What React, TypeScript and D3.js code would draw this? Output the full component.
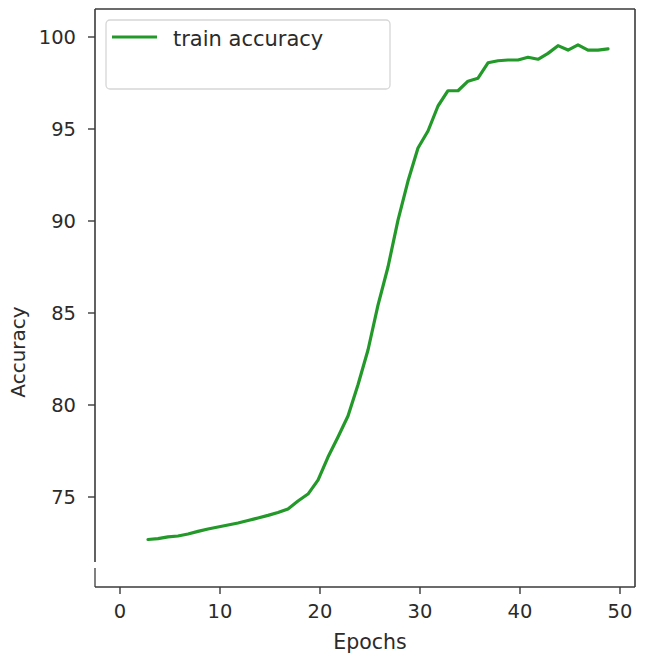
import React from 'react';
import * as d3 from 'd3';

const epochs = [3, 4, 5, 6, 7, 8, 9, 10, 11, 12, 13, 14, 15, 16, 17, 18, 19, 20, 21, 22, 23, 24, 25, 26,
  27, 28, 29, 30, 31, 32, 33, 34, 35, 36, 37, 38, 39, 40, 41, 42, 43, 44, 45, 46, 47, 48, 49];
const trainAccuracy = [72.69, 72.74, 72.83, 72.88, 72.99, 73.13, 73.26, 73.37, 73.48, 73.59, 73.72, 73.86,
  74.0, 74.16, 74.35, 74.78, 75.16, 75.92, 77.17, 78.26, 79.4, 81.1, 82.99, 85.43, 87.5, 90.05, 92.17,
  93.97, 94.89, 96.25, 97.08, 97.08, 97.6, 97.76, 98.6, 98.71, 98.75, 98.75, 98.9, 98.79, 99.11, 99.53,
  99.29, 99.57, 99.29, 99.29, 99.35];
const xTicks = [0, 10, 20, 30, 40, 50];
const yTicks = [75, 80, 85, 90, 95, 100];
const seriesName = 'train accuracy';
const xLabel = 'Epochs';
const yLabel = 'Accuracy';

const W = 646;
const H = 661;
const L = 95, R = 635, T = 9, B = 587;
const FONT = '"DejaVu Sans", sans-serif';
const LINE = '#23992a';
const AX = '#3a3a3a';
const TXT = '#2b2b2b';

export default function App() {
  const x = d3.scaleLinear().domain([0, 50]).range([120, 620]);
  const y = d3.scaleLinear().domain([75, 100]).range([497, 37]);
  const pts = epochs.map((e, i) => [e, trainAccuracy[i]] as [number, number]);
  const path = d3.line<[number, number]>().x(d => x(d[0]) - 2).y(d => y(d[1]))(pts) || '';

  return (
    <svg width={W} height={H} style={{ position: 'absolute', left: 0, top: 0, background: '#fff' }}
      fontFamily={FONT}>
      <rect x={0} y={0} width={W} height={H} fill="#fff" />
      {/* spines */}
      <line x1={L} x2={R} y1={T} y2={T} stroke={AX} strokeWidth={1.6} />
      <line x1={R} x2={R} y1={T} y2={B} stroke={AX} strokeWidth={1.6} />
      <line x1={L} x2={R} y1={B} y2={B} stroke={AX} strokeWidth={1.6} />
      <line x1={L} x2={L} y1={T} y2={562} stroke={AX} strokeWidth={1.6} />
      <line x1={L} x2={L} y1={568} y2={B} stroke={AX} strokeWidth={1.6} opacity={0.8} />

      {/* y ticks */}
      {yTicks.map(t => (
        <g key={'y' + t}>
          <line x1={L - 7} x2={L} y1={y(t)} y2={y(t)} stroke={AX} strokeWidth={1.4} />
          <text x={76} y={y(t)} dy="0.36em" textAnchor="end" fontSize={19.5} fill={TXT}>{t}</text>
        </g>
      ))}
      {/* x ticks */}
      {xTicks.map(t => (
        <g key={'x' + t}>
          <line x1={x(t)} x2={x(t)} y1={B} y2={B + 7} stroke={AX} strokeWidth={1.4} />
          <text x={x(t)} y={618} textAnchor="middle" fontSize={19.5} fill={TXT}>{t}</text>
        </g>
      ))}

      <text x={370} y={649} textAnchor="middle" fontSize={20.5} fill={TXT}>{xLabel}</text>
      <text transform={`translate(25,352) rotate(-90)`} textAnchor="middle" fontSize={20} fill={TXT}>{yLabel}</text>

      {/* data line */}
      <path d={path} fill="none" stroke={LINE} strokeWidth={3.2} strokeLinejoin="round" strokeLinecap="round" />

      {/* legend */}
      <rect x={106} y={20} width={284} height={69} rx={4} ry={4} fill="#fff" fillOpacity={0.85}
        stroke="#d6d6d6" strokeWidth={1.3} />
      <line x1={112} x2={157} y1={37} y2={37} stroke={LINE} strokeWidth={3.2} />
      <text x={173} y={38} dy="0.36em" fontSize={21} fill={TXT}>{seriesName}</text>
    </svg>
  );
}
